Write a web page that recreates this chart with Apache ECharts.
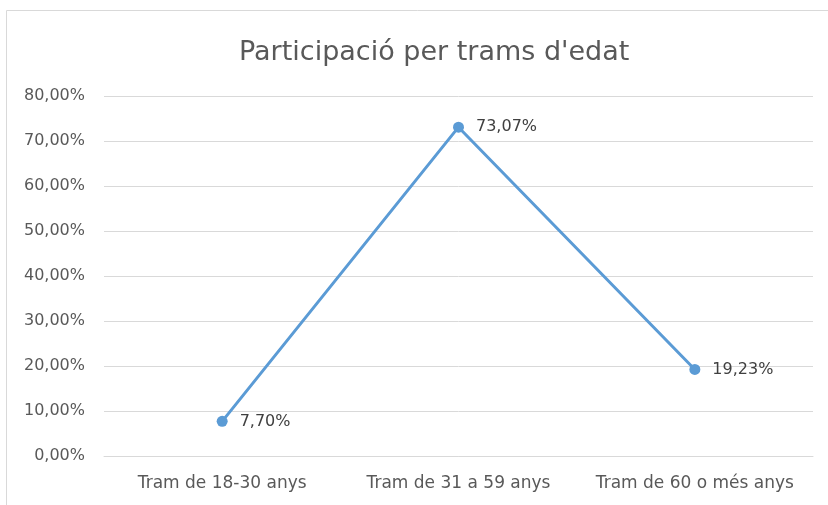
<!DOCTYPE html>
<html>
<head>
<meta charset="utf-8">
<script src="https://cdn.jsdelivr.net/npm/echarts@6/dist/echarts.min.js"></script>
<style>
html, body { margin: 0; padding: 0; background: #fff; }
#box1 { width: 828px; height: 505px; }
</style>
</head>
<body>
<div id="box1"></div>
<script>
var myChart = echarts.init(document.getElementById('box1'))

// dades llegides del gràfic
let categories = ['Tram de 18-30 anys', 'Tram de 31 a 59 anys', 'Tram de 60 o més anys'];
let values = [7.70, 73.07, 19.23];
let yTicks = [0, 10, 20, 30, 40, 50, 60, 70, 80];

function pct(v) {
    return v.toFixed(2).replace('.', ',') + '%';
}

let fontName = '"DejaVu Sans", sans-serif';

option = {
    animation: false,
    title: {
        text: "Participació per trams d'edat",
        left: 234,
        top: 34,
        textStyle: {
            fontFamily: fontName,
            fontSize: 27,
            fontWeight: 'normal',
            color: '#595959'
        }
    },
    graphic: [
        {
            type: 'rect',
            shape: { x: 6.5, y: 10.5, width: 840, height: 520 },
            style: { fill: 'none', stroke: '#d9d9d9', lineWidth: 1 },
            silent: true
        }
    ],
    grid: {
        left: 104,
        right: 15,
        top: 96,
        bottom: 49
    },
    xAxis: {
        type: 'category',
        data: categories,
        axisLine: { lineStyle: { color: '#d9d9d9' } },
        axisTick: { show: false },
        axisLabel: {
            interval: 0,
            fontFamily: fontName,
            fontSize: 17,
            color: '#595959',
            margin: 19
        }
    },
    yAxis: {
        type: 'value',
        min: yTicks[0],
        max: yTicks[yTicks.length - 1],
        interval: 10,
        axisLine: { show: false },
        axisTick: { show: false },
        splitLine: { lineStyle: { color: '#d9d9d9' } },
        axisLabel: {
            fontFamily: fontName,
            fontSize: 16,
            color: '#595959',
            margin: 19,
            formatter: function (v) { return pct(v); }
        }
    },
    series: [
        {
            type: 'line',
            data: values,
            symbol: 'circle',
            symbolSize: 11,
            itemStyle: { color: '#5b9bd5' },
            lineStyle: { color: '#5b9bd5', width: 3 },
            label: {
                show: true,
                position: 'right',
                distance: 12,
                fontFamily: fontName,
                fontSize: 16,
                color: '#404040',
                formatter: function (p) { return pct(p.value); }
            }
        }
    ]
};
myChart.setOption(option);
</script>
</body>
</html>
